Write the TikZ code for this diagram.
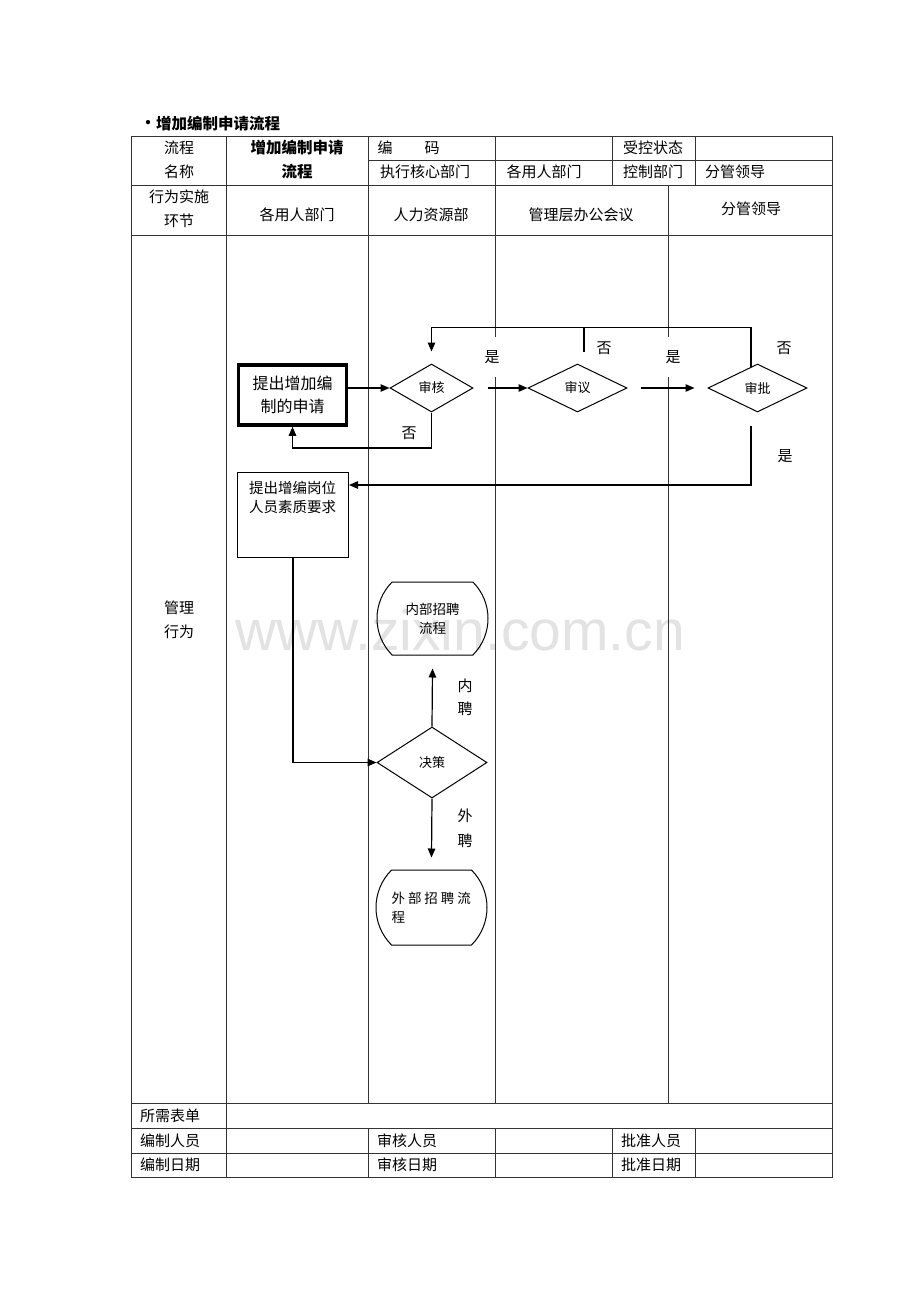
\documentclass[tikz,border=0pt]{standalone}
\usepackage{fontspec}
\newfontfamily\cjk{Noto Sans CJK SC}
\newfontfamily\wmfont{Liberation Sans}
\usetikzlibrary{arrows.meta,shapes.geometric,shapes.misc,calc}
\begin{document}
\begin{tikzpicture}[x=1pt,y=-1pt,
  tline/.style={draw=black!80, line width=0.9pt},
  tx/.style={font=\cjk\fontsize{15}{18}\selectfont, inner sep=0pt},
  txb/.style={font=\cjk\bfseries\fontsize{15.5}{18}\selectfont, inner sep=0pt},
  fl/.style={line width=1.2pt, -{Triangle[length=9pt,width=7.5pt]}},
  conn/.style={line width=1.2pt},
  dia/.style={diamond, draw, line width=1pt, inner sep=0pt, font=\cjk\fontsize{13}{16}\selectfont},
  lab/.style={tx, fill=white, minimum width=30pt, minimum height=40pt},
  term/.style={rounded rectangle, rounded rectangle arc length=90, draw, line width=1pt, inner sep=0pt, font=\cjk\fontsize{13.5}{19}\selectfont}
]
\useasboundingbox (0,0) rectangle (920,1302);
\fill[white] (0,0) rectangle (920,1302);

% watermark
\node[text=black!11, font=\wmfont\fontsize{57}{60}\selectfont, inner sep=0pt, anchor=base] (wm) at (460,650) {www.zixin.com.cn};

% title
\node[txb] (bul) at (148,124) {•};
\node[txb, anchor=west] (title) at (156,124) {增加编制申请流程};

% table lines
\draw[tline] (131,136) rectangle (832,1177);
\draw[tline] (368,160) -- (832,160);
\foreach \yy in {185,235,1103,1128,1153} \draw[tline] (131,\yy) -- (832,\yy);
\draw[tline] (226,136) -- (226,1177);
\draw[tline] (368,136) -- (368,1103);
\draw[tline] (495,136) -- (495,337);
\draw[tline] (495,377) -- (495,1103);
\draw[tline] (668,185) -- (668,337);
\draw[tline] (668,377) -- (668,1103);
\draw[tline] (612,136) -- (612,185);
\draw[tline] (695,136) -- (695,185);
\foreach \xx in {368,495,612,695} \draw[tline] (\xx,1128) -- (\xx,1177);

% header texts
\node[tx] (h1) at (179,148) {流程};
\node[tx] (h2) at (179,172) {名称};
\node[txb] (h3) at (297,148) {增加编制申请};
\node[txb] (h4) at (297,172) {流程};
\node[tx] (h5) at (385,148) {编};
\node[tx] (h6) at (432,148) {码};
\node[tx] (h7) at (653,148) {受控状态};
\node[tx] (h8) at (425,172) {执行核心部门};
\node[tx] (h9) at (544,172) {各用人部门};
\node[tx] (h10) at (653,172) {控制部门};
\node[tx, anchor=west] (h11) at (705,172) {分管领导};
\node[tx] (h12) at (179,197) {行为实施};
\node[tx] (h13) at (179,221) {环节};
\node[tx] (h14) at (297,215) {各用人部门};
\node[tx] (h15) at (431,215) {人力资源部};
\node[tx] (h16) at (581,215) {管理层办公会议};
\node[tx] (h17) at (751,209) {分管领导};
\node[tx] (h18) at (179,608) {管理};
\node[tx] (h19) at (179,632) {行为};

% footer texts
\node[tx, anchor=west] (f1) at (140,1116) {所需表单};
\node[tx, anchor=west] (f2) at (140,1141) {编制人员};
\node[tx, anchor=west] (f3) at (140,1165) {编制日期};
\node[tx, anchor=west] (f4) at (377,1141) {审核人员};
\node[tx, anchor=west] (f5) at (377,1165) {审核日期};
\node[tx, anchor=west] (f6) at (621,1141) {批准人员};
\node[tx, anchor=west] (f7) at (621,1165) {批准日期};

% flow nodes
\node[draw, line width=3.5pt, minimum width=108pt, minimum height=60pt, inner sep=0pt, align=center,
      font=\cjk\fontsize{16}{23}\selectfont] (req) at (292.5,395) {提出增加编\\制的申请};
\node[dia, minimum width=83pt, minimum height=48pt] (shk) at (431.5,388) {审核};
\node[dia, minimum width=99pt, minimum height=48pt] (shy) at (577.5,388) {审议};
\node[dia, minimum width=99pt, minimum height=48pt] (shp) at (757.5,388) {审批};

\node[draw, line width=1pt, minimum width=111pt, minimum height=85pt, inner sep=0pt, anchor=north west] (req2) at (237,472) {};
\node[inner sep=0pt, anchor=north west, align=left, font=\cjk\fontsize{14.5}{19.5}\selectfont] (req2t) at (249,481) {提出增编岗位\\人员素质要求};

\node[term, minimum width=111pt, minimum height=73pt, align=center] (inr) at (432.5,618.5) {内部招聘\\流程};
\node[dia, minimum width=110pt, minimum height=71pt] (dec) at (432,762.5) {决策};
\node[term, minimum width=111pt, minimum height=75pt, text width=80pt, align=left] (outr) at (431.5,907.5)
  {外\hspace{3pt}部\hspace{3pt}招\hspace{3pt}聘\hspace{3pt}流\\程};

% labels
\node[lab] (ly1) at (492,357) {是};
\node[lab] (ly2) at (673,357) {是};
\node[tx] (ln1) at (409,433) {否};
\node[tx] (ln2) at (604,348) {否};
\node[tx] (ln3) at (784,348) {否};
\node[tx] (ly3) at (785,456) {是};
\node[tx] (lnp1) at (465,686) {内};
\node[tx] (lnp2) at (465,709) {聘};
\node[tx] (lwp1) at (465,816) {外};
\node[tx] (lwp2) at (465,841) {聘};

% connectors
\draw[fl] (req.east |- shk.west) -- (shk.west);
\draw[fl] ([xshift=14pt]shk.east) -- (shy.west);
\draw[fl, shorten >=13pt] ([xshift=13pt]shy.east) -- (shp.west);
\coordinate (nolow) at (431.5,448);
\draw[fl] (shk.south) -- (nolow) -| (req.south);
\draw[fl] ([xshift=-6.5pt,yshift=-3pt]shp.north) |- ($(shk.north)+(0,-36)$) -- ([yshift=12pt]shk.north);
\draw[conn] ([xshift=6.5pt,yshift=12pt]shy.north) -- ([xshift=6.5pt,yshift=36pt]shy.north);
\coordinate (yesturn) at (751,485);
\draw[fl] ([xshift=-6.5pt,yshift=-13pt]shp.south) -- (yesturn) -- (req2.east |- yesturn);
\draw[fl] (req2.south) |- (dec.west);
\draw[fl] (dec.north) -- ([yshift=-13pt]inr.south);
\draw[fl] (dec.south) -- ([yshift=12pt]outr.north);
\end{tikzpicture}
\end{document}
